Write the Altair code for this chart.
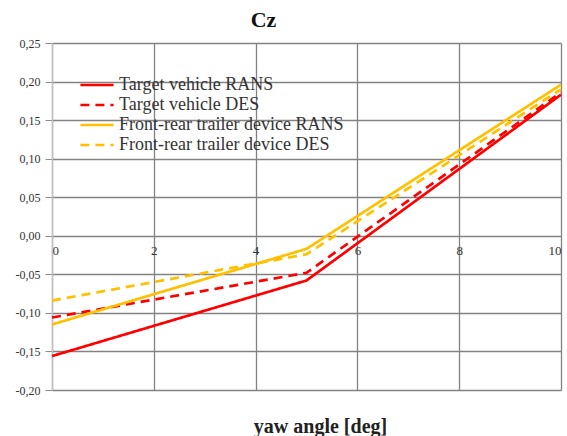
import altair as alt
import pandas as pd

# Lift coefficient Cz against yaw angle for four configurations
yaw_deg = [0, 5, 10]
target_rans = [-0.156, -0.058, 0.183]
target_des = [-0.106, -0.048, 0.186]
trailer_rans = [-0.115, -0.017, 0.196]
trailer_des = [-0.084, -0.024, 0.190]

series_names = [
    "Target vehicle RANS",
    "Target vehicle DES",
    "Front-rear trailer device RANS",
    "Front-rear trailer device DES",
]
series_values = [target_rans, target_des, trailer_rans, trailer_des]
series_colors = ["#ff0000", "#ff0000", "#ffc000", "#ffc000"]
series_dash = [[1, 0], [9, 6], [1, 0], [9, 6]]

x_ticks = [0, 2, 4, 6, 8, 10]
y_ticks = [-0.20, -0.15, -0.10, -0.05, 0.00, 0.05, 0.10, 0.15, 0.20, 0.25]

rows = []
for name, vals in zip(series_names, series_values):
    for x, v in zip(yaw_deg, vals):
        rows.append({"series": name, "yaw": x, "cz": v})
df = pd.DataFrame(rows)

serif = "Liberation Serif"
grid_color = "#828282"

# a wide horizontal stroke so the legend keys are longer than a row is tall
legend = alt.Legend(
    title=None,
    orient="none",
    legendX=34,
    legendY=31,
    symbolType="M-1.8,0H1.8",
    symbolSize=340,
    symbolStrokeWidth=2.7,
    symbolFillColor="transparent",
    labelFont=serif,
    labelFontSize=18,
    labelColor="#333333",
    labelOffset=11,
    rowPadding=0,
    labelLimit=400,
    padding=0,
)

chart = (
    alt.Chart(df)
    .mark_line(strokeWidth=2.7)
    .encode(
        x=alt.X(
            "yaw:Q",
            scale=alt.Scale(domain=[0, 10], nice=False),
            axis=alt.Axis(
                values=x_ticks,
                format="d",
                offset=-155,
                domain=False,
                ticks=False,
                grid=True,
                gridColor=grid_color,
                gridWidth=1.3,
                labelFont=serif,
                labelFontSize=13,
                labelColor="#333333",
                labelPadding=9,
                title="yaw angle [deg]",
                titleFont=serif,
                titleFontSize=20,
                titleFontWeight="bold",
                titleColor="#222222",
                titleX=268,
                titleY=197,
                titleAlign="center",
                titleBaseline="alphabetic",
            ),
        ),
        y=alt.Y(
            "cz:Q",
            scale=alt.Scale(domain=[-0.20, 0.25], nice=False, zero=False),
            axis=alt.Axis(
                values=y_ticks,
                labelExpr="(datum.value < -0.0001 ? '-' : '') + replace(format(abs(datum.value), '.2f'), '.', ',')",
                grid=True,
                gridColor=grid_color,
                gridWidth=1.3,
                domainColor="#c0c0c0",
                domainWidth=1.3,
                tickColor="#8c8c8c",
                tickSize=7,
                labelFont=serif,
                labelFontSize=12,
                labelColor="#333333",
                labelPadding=5,
                title=None,
            ),
        ),
        color=alt.Color(
            "series:N",
            scale=alt.Scale(domain=series_names, range=series_colors),
            legend=legend,
        ),
        strokeDash=alt.StrokeDash(
            "series:N",
            scale=alt.Scale(domain=series_names, range=series_dash),
            legend=legend,
        ),
    )
    .properties(
        width=509,
        height=347,
        autosize=alt.AutoSizeParams(type="none"),
        padding={"left": 52, "top": 43, "right": 6, "bottom": 46},
        title=alt.TitleParams(
            "Cz",
            font=serif,
            fontSize=22,
            fontWeight="bold",
            color="#111111",
            anchor="middle",
            frame="group",
            dx=-43,
            offset=5,
        ),
        background="white",
    )
    .configure_view(stroke=None)
)

chart.save("out.html", embed_options={"renderer": "svg", "actions": False})
